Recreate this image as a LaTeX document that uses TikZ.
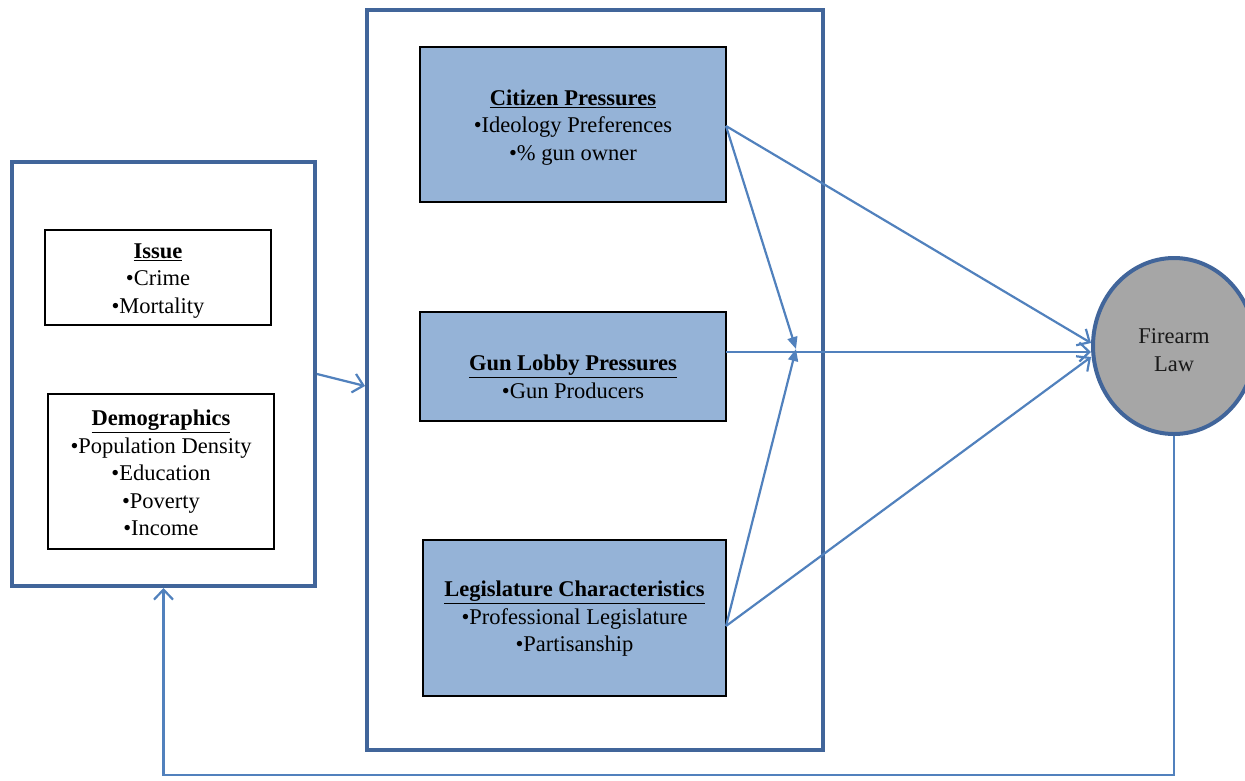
\documentclass[tikz,border=0pt]{standalone}
\usepackage{fontspec}
\setmainfont{Liberation Serif}
\usetikzlibrary{arrows.meta,shapes.geometric,calc}
\definecolor{frameblue}{HTML}{41659A}
\definecolor{arrblue}{HTML}{5181BD}
\definecolor{boxfill}{HTML}{95B3D7}
\definecolor{circfill}{HTML}{A6A6A6}
\tikzset{
  bigframe/.style={draw=frameblue,line width=4pt,rectangle,inner sep=0pt},
  whitebox/.style={draw=black,line width=2pt,rectangle,fill=white,align=center,inner sep=0pt},
  bluebox/.style={draw=black,line width=2pt,rectangle,fill=boxfill,inner sep=0pt},
  txt/.style={align=center,inner sep=0pt,font=\fontsize{22.5}{27.5}\selectfont},
  conn/.style={draw=arrblue,line width=2.2pt},
  vtip/.style={conn,-{Straight Barb[length=10pt,width=19pt,line width=2.2pt]}},
  ftip/.style={conn,-{Triangle[length=12pt,width=10pt]}},
}
\begin{document}
\begin{tikzpicture}[x=1pt,y=-1pt]
\useasboundingbox (0,0) rectangle (1245,780);
\begin{scope}
\clip (0,0) rectangle (1245,780);
% frames
\node[bigframe,minimum width=303pt,minimum height=424pt] (left) at (163.5,374) {};
\node[bigframe,minimum width=456pt,minimum height=740pt] (mid) at (595,380) {};
% left inner boxes
\node[whitebox,minimum width=226pt,minimum height=95pt] (issue) at (158,277.5) {};
\node[txt] (issuet) at (158,281) {\underline{\textbf{Issue}}\\•Crime\\•Mortality};
\node[whitebox,minimum width=226pt,minimum height=155pt] (demo) at (161,471.5) {};
\node[txt] (demot) at (161,473) {\underline{\textbf{Demographics}}\\•Population Density\\•Education\\•Poverty\\•Income};
% blue boxes
\node[bluebox,minimum width=306pt,minimum height=155pt] (cit) at (573,124.5) {};
\node[txt] (citt) at (573,127.5) {\underline{\textbf{Citizen Pressures}}\\•Ideology Preferences\\•\% gun owner};
\node[bluebox,minimum width=306pt,minimum height=109pt] (gun) at (573,366.5) {};
\node[txt] (gunt) at (573,377) {\underline{\textbf{Gun Lobby Pressures}}\\•Gun Producers};
\node[bluebox,minimum width=303pt,minimum height=156pt] (leg) at (574.5,618) {};
\node[txt] (legt) at (574.5,619) {\underline{\textbf{Legislature Characteristics}}\\•Professional Legislature\\•Partisanship};
% circle
\node[ellipse,draw=frameblue,line width=4pt,fill=circfill,minimum width=162pt,minimum height=176pt,inner sep=0pt] (law) at (1174,346) {};
\node[txt,text=black!90] (lawt) at (1174,350) {Firearm\\Law};
% connectors
\coordinate (conv) at (796,349);
\coordinate (citout) at (726,126);
\coordinate (gunout) at (726,352);
\coordinate (legout) at (726,626);
\draw[ftip] (citout) -- (conv);
\draw[ftip] (legout) -- (conv);
\draw[vtip] (citout) -- ([yshift=3pt]law.west);
\draw[vtip] (gunout) -- ([yshift=-6pt]law.west);
\draw[vtip] (legout) -- ([yshift=-11pt]law.west);
\draw[vtip] (left.east) -- ([yshift=-6pt]mid.west);
\coordinate (corner) at (163.5,775);
\draw[vtip] (law.south) |- (corner) -- (left.south);
\end{scope}
\end{tikzpicture}
\end{document}
